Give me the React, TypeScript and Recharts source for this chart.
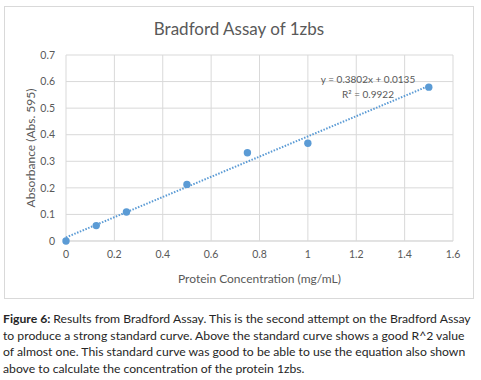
import { ScatterChart, Scatter, XAxis, YAxis, CartesianGrid, ReferenceLine, Label } from "recharts";

// protein concentration (mg/mL) and absorbance at 595 nm
const concentration = [0, 0.125, 0.25, 0.5, 0.75, 1, 1.5];
const absorbance = [0, 0.058, 0.109, 0.213, 0.332, 0.368, 0.579];

const xTicks = [0, 0.2, 0.4, 0.6, 0.8, 1, 1.2, 1.4, 1.6];
const yTicks = [0, 0.1, 0.2, 0.3, 0.4, 0.5, 0.6, 0.7];

// linear trendline shown on the chart
const slope = 0.3802;
const intercept = 0.0135;
const trendRange = [0, 1.5];

const captionLines = [
  "Results from Bradford Assay. This is the second attempt on the Bradford Assay",
  "to produce a strong standard curve. Above the standard curve shows a good R^2 value",
  "of almost one. This standard curve was good to be able to use the equation also shown",
  "above to calculate the concentration of the protein 1zbs.",
];

const points = concentration.map((c, i) => ({ x: c, y: absorbance[i] }));

const font = "Lato, 'Open Sans', sans-serif";
const grey = "#595959";
const blue = "#5b9bd5";

export default function App() {
  return (
    <div style={{ position: "absolute", left: 0, top: 0, width: 481, height: 380, background: "#fff", fontFamily: font }}>
      <div style={{ position: "absolute", left: 4, top: 6, width: 470, height: 293, border: "1px solid #d9d9d9", boxSizing: "border-box" }} />
      <div style={{ position: "absolute", left: 4, top: 18, width: 470, textAlign: "center", fontSize: 17, lineHeight: "22px", color: grey }}>
        Bradford Assay of 1zbs
      </div>
      <div style={{ position: "absolute", left: 4, top: 6 }}>
        <ScatterChart width={470} height={293} margin={{ top: 49, right: 21, left: 0, bottom: 0 }}>
          <CartesianGrid stroke="#d9d9d9" />
          <XAxis
            type="number"
            dataKey="x"
            domain={[0, 1.6]}
            ticks={xTicks}
            height={58}
            tickSize={0}
            tickMargin={10}
            axisLine={{ stroke: "#d9d9d9" }}
            tickLine={false}
            tick={{ fill: grey, fontSize: 10.5, fontFamily: font }}
            tickFormatter={(v: number) => String(v)}
          >
            <Label value="Protein Concentration (mg/mL)" position="insideBottom" offset={16} fill={grey} fontSize={12} fontFamily={font} />
          </XAxis>
          <YAxis
            type="number"
            dataKey="y"
            domain={[0, 0.7]}
            ticks={yTicks}
            width={62}
            tickSize={0}
            tickMargin={11}
            axisLine={false}
            tickLine={false}
            tick={{ fill: grey, fontSize: 10.5, fontFamily: font }}
            tickFormatter={(v: number) => String(v)}
          >
            <Label
              content={({ viewBox }: any) => {
                const cx = viewBox.x + 26;
                const cy = viewBox.y + viewBox.height / 2;
                return (
                  <text x={cx} y={cy} transform={`rotate(-90 ${cx} ${cy})`} textAnchor="middle" dominantBaseline="central" fill={grey} fontSize={12} fontFamily={font}>
                    Absorbance (Abs. 595)
                  </text>
                );
              }}
            />
          </YAxis>
          <ReferenceLine
            segment={[
              { x: trendRange[0], y: slope * trendRange[0] + intercept },
              { x: trendRange[1], y: slope * trendRange[1] + intercept },
            ]}
            stroke={blue}
            strokeWidth={2}
            strokeDasharray="1.5 1.5"
            ifOverflow="visible"
          />
          <Scatter data={points} fill={blue} isAnimationActive={false} shape={(p: any) => <circle cx={p.cx} cy={p.cy} r={3.7} fill={blue} />} />
        </ScatterChart>
      </div>
      <div style={{ position: "absolute", left: 318, top: 72, width: 100, textAlign: "center", fontSize: 10, color: grey, lineHeight: "15px" }}>
        y = 0.3802x + 0.0135
        <br />
        R² = 0.9922
      </div>
      <div style={{ position: "absolute", left: 3, top: 311, width: 478, fontSize: 12.2, lineHeight: "16.5px", color: "#262626", whiteSpace: "nowrap", fontFamily: font }}>
        {captionLines.map((line, i) => (
          <div key={i}>
            {i === 0 && <b>Figure 6: </b>}
            {line}
          </div>
        ))}
      </div>
    </div>
  );
}
